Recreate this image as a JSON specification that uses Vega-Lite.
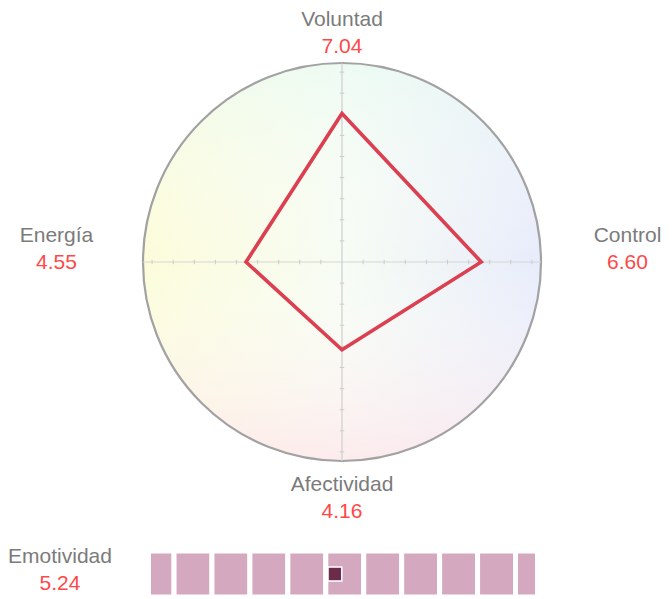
{
  "$schema": "https://vega.github.io/schema/vega-lite/v6.json",
  "autosize": {"type": "pad"},
  "padding": 0,
  "bounds": "flush",
  "spacing": 0,
  "config": {
    "view": {"stroke": null},
    "font": "Liberation Sans",
    "text": {"font": "Liberation Sans"}
  },
  "datasets": {
    "ejes": [
      {"eje": "Voluntad", "valor": 7.04, "dirx": 0, "diry": 1, "orden": 1},
      {"eje": "Control", "valor": 6.60, "dirx": 1, "diry": 0, "orden": 2},
      {"eje": "Afectividad", "valor": 4.16, "dirx": 0, "diry": -1, "orden": 3},
      {"eje": "Energía", "valor": 4.55, "dirx": -1, "diry": 0, "orden": 4}
    ],
    "marcas": [
      {"t": -9}, {"t": -8}, {"t": -7}, {"t": -6}, {"t": -5}, {"t": -4}, {"t": -3}, {"t": -2}, {"t": -1},
      {"t": 1}, {"t": 2}, {"t": 3}, {"t": 4}, {"t": 5}, {"t": 6}, {"t": 7}, {"t": 8}, {"t": 9}
    ],
    "celdas": [
      {"desde": 0, "hasta": 1}, {"desde": 1, "hasta": 2}, {"desde": 2, "hasta": 3},
      {"desde": 3, "hasta": 4}, {"desde": 4, "hasta": 5}, {"desde": 5, "hasta": 6},
      {"desde": 6, "hasta": 7}, {"desde": 7, "hasta": 8}, {"desde": 8, "hasta": 9},
      {"desde": 9, "hasta": 10}, {"desde": 10, "hasta": 11}
    ],
    "emotividad": [{"eje": "Emotividad", "valor": 5.24}]
  },
  "vconcat": [
    {
      "width": 672,
      "height": 551,
      "layer": [
        {
          "data": {"values": [{}]},
          "mark": {
            "type": "point", "shape": "circle", "size": 158404, "filled": true, "opacity": 1,
            "fill": {"gradient": "linear", "x1": 0, "y1": 0, "x2": 1, "y2": 0,
              "stops": [
                {"offset": 0, "color": "#fcfcda"},
                {"offset": 0.5, "color": "#f7fcf4"},
                {"offset": 1, "color": "#e8ecfb"}
              ]}
          },
          "encoding": {
            "x": {"datum": 0, "type": "quantitative", "scale": {"domain": [-16.209, 15.640], "nice": false, "zero": false}, "axis": null},
            "y": {"datum": 0, "type": "quantitative", "scale": {"domain": [-13.697, 12.417], "nice": false, "zero": false}, "axis": null}
          }
        },
        {
          "data": {"values": [{}]},
          "mark": {
            "type": "point", "shape": "circle", "size": 158404, "filled": true, "opacity": 1,
            "stroke": "#a2a2a2", "strokeWidth": 2.2, "strokeOpacity": 1,
            "fill": {"gradient": "linear", "x1": 0, "y1": 0, "x2": 0, "y2": 1,
              "stops": [
                {"offset": 0, "color": "rgba(228,250,242,0.5)"},
                {"offset": 0.5, "color": "rgba(255,255,255,0)"},
                {"offset": 1, "color": "rgba(255,228,234,0.7)"}
              ]}
          },
          "encoding": {
            "x": {"datum": 0, "type": "quantitative", "scale": {"domain": [-16.209, 15.640], "nice": false, "zero": false}, "axis": null},
            "y": {"datum": 0, "type": "quantitative", "scale": {"domain": [-13.697, 12.417], "nice": false, "zero": false}, "axis": null}
          }
        },
        {
          "data": {"values": [{}]},
          "mark": {"type": "rule", "color": "#d6d6d6", "strokeWidth": 1.2},
          "encoding": {
            "x": {"datum": -9.43, "type": "quantitative", "scale": {"domain": [-16.209, 15.640], "nice": false, "zero": false}, "axis": null},
            "x2": {"datum": 9.43},
            "y": {"datum": 0, "type": "quantitative", "scale": {"domain": [-13.697, 12.417], "nice": false, "zero": false}, "axis": null}
          }
        },
        {
          "data": {"values": [{}]},
          "mark": {"type": "rule", "color": "#cfcfcf", "strokeWidth": 1.2},
          "encoding": {
            "x": {"datum": 0, "type": "quantitative", "scale": {"domain": [-16.209, 15.640], "nice": false, "zero": false}, "axis": null},
            "y": {"datum": -9.43, "type": "quantitative", "scale": {"domain": [-13.697, 12.417], "nice": false, "zero": false}, "axis": null},
            "y2": {"datum": 9.43}
          }
        },
        {
          "data": {"name": "marcas"},
          "mark": {"type": "point", "shape": "M0,-1L0,1", "size": 20, "filled": false, "stroke": "#cccccc", "strokeWidth": 1, "opacity": 1},
          "encoding": {
            "x": {"field": "t", "type": "quantitative", "scale": {"domain": [-16.209, 15.640], "nice": false, "zero": false}, "axis": null},
            "y": {"datum": 0, "type": "quantitative", "scale": {"domain": [-13.697, 12.417], "nice": false, "zero": false}, "axis": null}
          }
        },
        {
          "data": {"name": "marcas"},
          "mark": {"type": "point", "shape": "M-1,0L1,0", "size": 20, "filled": false, "stroke": "#cccccc", "strokeWidth": 1, "opacity": 1},
          "encoding": {
            "x": {"datum": 0, "type": "quantitative", "scale": {"domain": [-16.209, 15.640], "nice": false, "zero": false}, "axis": null},
            "y": {"field": "t", "type": "quantitative", "scale": {"domain": [-13.697, 12.417], "nice": false, "zero": false}, "axis": null}
          }
        },
        {
          "data": {"name": "ejes"},
          "transform": [
            {"calculate": "datum.valor * datum.dirx", "as": "px"},
            {"calculate": "datum.valor * datum.diry", "as": "py"}
          ],
          "mark": {"type": "line", "interpolate": "linear-closed", "color": "#db3f50", "strokeWidth": 3.6},
          "encoding": {
            "x": {"field": "px", "type": "quantitative", "scale": {"domain": [-16.209, 15.640], "nice": false, "zero": false}, "axis": null},
            "y": {"field": "py", "type": "quantitative", "scale": {"domain": [-13.697, 12.417], "nice": false, "zero": false}, "axis": null},
            "order": {"field": "orden"}
          }
        },
        {
          "data": {"name": "ejes"},
          "transform": [
            {"calculate": "datum.dirx * 13.53", "as": "lx"},
            {"calculate": "datum.diry > 0 ? 11.18 : (datum.diry < 0 ? -10.85 : 0.948)", "as": "ly"}
          ],
          "mark": {"type": "text", "align": "center", "baseline": "alphabetic", "fontSize": 21, "color": "#7b7b7b"},
          "encoding": {
            "x": {"field": "lx", "type": "quantitative", "scale": {"domain": [-16.209, 15.640], "nice": false, "zero": false}, "axis": null},
            "y": {"field": "ly", "type": "quantitative", "scale": {"domain": [-13.697, 12.417], "nice": false, "zero": false}, "axis": null},
            "text": {"field": "eje"}
          }
        },
        {
          "data": {"name": "ejes"},
          "transform": [
            {"calculate": "datum.dirx * 13.53", "as": "lx"},
            {"calculate": "datum.diry > 0 ? 11.18 : (datum.diry < 0 ? -10.85 : 0.948)", "as": "ly"}
          ],
          "mark": {"type": "text", "align": "center", "baseline": "alphabetic", "fontSize": 21, "color": "#ff4848", "dy": 27},
          "encoding": {
            "x": {"field": "lx", "type": "quantitative", "scale": {"domain": [-16.209, 15.640], "nice": false, "zero": false}, "axis": null},
            "y": {"field": "ly", "type": "quantitative", "scale": {"domain": [-13.697, 12.417], "nice": false, "zero": false}, "axis": null},
            "text": {"field": "valor", "type": "quantitative", "format": ".2f"}
          }
        }
      ]
    },
    {
      "spacing": 31,
      "bounds": "flush",
      "hconcat": [
        {
          "width": 120,
          "height": 46,
          "data": {"name": "emotividad"},
          "layer": [
            {
              "mark": {"type": "text", "align": "center", "baseline": "alphabetic", "fontSize": 21, "color": "#7b7b7b", "dy": -11},
              "encoding": {"text": {"field": "eje"}}
            },
            {
              "mark": {"type": "text", "align": "center", "baseline": "alphabetic", "fontSize": 21, "color": "#ff4848", "dy": 16},
              "encoding": {"text": {"field": "valor", "type": "quantitative", "format": ".2f"}}
            }
          ]
        },
        {
          "width": 384,
          "height": 46,
          "layer": [
            {
              "data": {"name": "celdas"},
              "mark": {"type": "rect", "fill": "#d4a9bf", "stroke": "#ffffff", "strokeWidth": 5, "clip": true},
              "encoding": {
                "x": {"field": "desde", "type": "quantitative", "scale": {"domain": [0.393, 10.514], "nice": false, "zero": false}, "axis": null},
                "x2": {"field": "hasta"}
              }
            },
            {
              "data": {"name": "emotividad"},
              "mark": {"type": "point", "shape": "square", "size": 190, "filled": true, "fill": "#6b2b4b", "stroke": "#ffffff", "strokeWidth": 1.5, "opacity": 1},
              "encoding": {
                "x": {"field": "valor", "type": "quantitative", "scale": {"domain": [0.393, 10.514], "nice": false, "zero": false}, "axis": null}
              }
            }
          ]
        }
      ]
    }
  ]
}
